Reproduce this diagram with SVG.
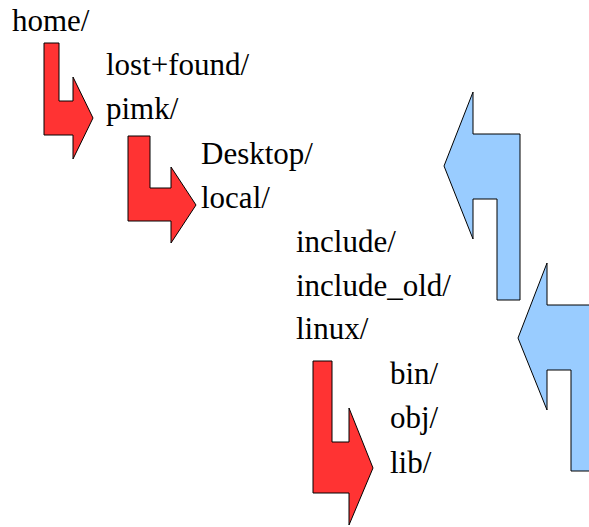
<svg xmlns="http://www.w3.org/2000/svg" width="589" height="527" viewBox="0 0 589 527">
  <style>
    .dir { font-family: "Liberation Serif", "Times New Roman", serif; font-size: 31px; fill: #000; }
    .down { fill: #ff3333; stroke: #000; stroke-width: 1; stroke-linejoin: miter; }
    .up { fill: #99ccff; stroke: #000; stroke-width: 1; stroke-linejoin: miter; }
  </style>
  <rect width="589" height="527" fill="#fff"/>

  <!-- directory tree entries -->
  <g id="home"><text class="dir" x="12" y="31">home/</text></g>
  <g id="lost-found"><text class="dir" x="106" y="75">lost+found/</text></g>
  <g id="pimk"><text class="dir" x="106" y="119">pimk/</text></g>
  <g id="desktop"><text class="dir" x="201" y="164">Desktop/</text></g>
  <g id="local"><text class="dir" x="201" y="208">local/</text></g>
  <g id="include"><text class="dir" x="296" y="252">include/</text></g>
  <g id="include-old"><text class="dir" x="296" y="296">include_old/</text></g>
  <g id="linux"><text class="dir" x="296" y="339">linux/</text></g>
  <g id="bin"><text class="dir" x="390" y="384">bin/</text></g>
  <g id="obj"><text class="dir" x="390" y="428">obj/</text></g>
  <g id="lib"><text class="dir" x="390" y="473">lib/</text></g>

  <!-- descend / ascend arrows -->
  <g id="connectors">
    <path class="down" d="M44,43 L59,43 L59,101 L73,101 L73,77 L93,118 L73,159 L73,135 L44,135 Z"/>
    <path class="down" d="M128,136 L150,136 L150,188 L171,188 L171,167 L196,205 L171,243 L171,221 L128,221 Z"/>
    <path class="down" d="M313,361 L332,361 L332,442 L349,442 L349,408 L373,468 L349,525 L349,493 L313,493 Z"/>
    <path class="up" d="M444,166 L473,92 L473,134 L520,134 L520,300 L497,300 L497,199 L473,199 L473,239 Z"/>
    <path class="up" d="M518,338 L547,263 L547,305 L595,305 L595,471 L571,471 L571,370 L547,370 L547,410 Z"/>
  </g>
</svg>
